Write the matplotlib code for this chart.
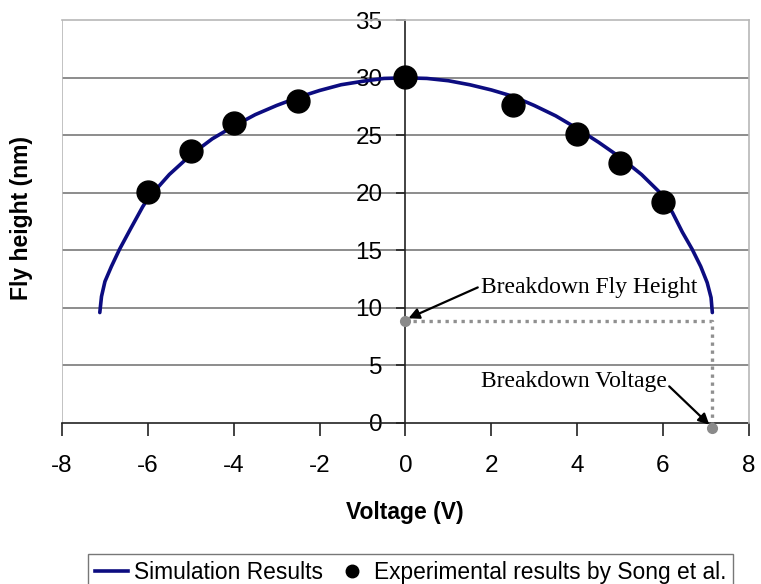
import matplotlib
matplotlib.use("Agg")
import matplotlib.pyplot as plt
from matplotlib.lines import Line2D

# Simulated fly height vs. applied voltage
sim_voltage = [-7.12, -7.08, -7.00, -6.85, -6.66, -6.40, -6.12, -6.00, -5.50, -5.00,
               -4.50, -4.00, -3.50, -3.00, -2.50, -2.00, -1.50, -1.00, -0.50, 0.00,
               0.50, 1.00, 1.50, 2.00, 2.50, 3.00, 3.50, 4.00, 4.50, 5.00,
               5.50, 5.91, 6.22, 6.45, 6.68, 6.88, 7.03, 7.12, 7.15]
sim_height = [9.6, 11.0, 12.3, 13.6, 15.1, 16.9, 18.8, 19.5, 21.6, 23.3,
              24.7, 25.8, 26.8, 27.6, 28.3, 28.9, 29.4, 29.7, 29.95, 30.0,
              29.95, 29.75, 29.4, 28.95, 28.4, 27.6, 26.7, 25.6, 24.4, 23.1,
              21.6, 20.1, 18.3, 16.6, 15.1, 13.6, 12.2, 10.9, 9.6]

# Measured fly height (Song et al.)
exp_voltage = [-6, -5, -4, -2.5, 0, 2.5, 4, 5, 6]
exp_height = [20.1, 23.6, 26.1, 28.0, 30.1, 27.6, 25.1, 22.6, 19.2]

# Breakdown guide lines
bd_voltage = [0, 7.15, 7.15]
bd_height = [8.9, 8.9, -0.4]

x_ticks = [-8, -6, -4, -2, 0, 2, 4, 6, 8]
y_ticks = [0, 5, 10, 15, 20, 25, 30, 35]

fig = plt.figure(figsize=(7.61, 5.84), dpi=100)
ax = fig.add_axes([0.0815, 0.2757, 0.9025, 0.6895])
ax.set_xlim(-8, 8)
ax.set_ylim(0, 35)

# Horizontal grid
for yv in y_ticks[1:-1]:
    ax.axhline(yv, color="#6e6e6e", lw=1.1, zorder=1)

# Light frame on the outer edges
ax.axvline(-8, color="#b8b8b8", lw=1.2, zorder=1)
for side in ("top", "right"):
    ax.spines[side].set_color("#b8b8b8")
    ax.spines[side].set_linewidth(1.2)

# Axes crossing at the origin
ax.spines["left"].set_position(("data", 0))
ax.spines["bottom"].set_position(("data", 0))
for side in ("left", "bottom"):
    ax.spines[side].set_color("#222222")
    ax.spines[side].set_linewidth(1.2)
    ax.spines[side].set_zorder(2)

tick_font = dict(family="Liberation Sans", size=17.5)
ax.set_xticks(x_ticks)
ax.set_yticks(y_ticks)
ax.set_xticklabels([str(v) for v in x_ticks], **tick_font)
ax.set_yticklabels([str(v) for v in y_ticks], **tick_font)
ax.tick_params(axis="x", direction="out", length=9, width=1.2, color="#222222", pad=14)
ax.tick_params(axis="y", direction="out", length=6.5, width=1.2, color="#222222", pad=10)

ax.plot(sim_voltage, sim_height, color="#0c0c80", lw=2.6, zorder=3,
        solid_capstyle="round", solid_joinstyle="round")
ax.plot(exp_voltage, exp_height, "o", color="black", ms=16.5, zorder=4)
ax.plot(bd_voltage, bd_height, color="#909090", lw=2.4, ls=(0, (1, 1.4)),
        zorder=3, clip_on=False)
ax.plot([bd_voltage[0], bd_voltage[-1]], [bd_height[0], bd_height[-1]], "o",
        color="#8a8a8a", ms=7, zorder=4, clip_on=False)

note_font = dict(family="Liberation Serif", size=17, color="black")
ax.annotate("Breakdown Fly Height", xy=(0.07, 9.1), xytext=(1.75, 11.8),
            ha="left", va="center", annotation_clip=False, **note_font,
            arrowprops=dict(arrowstyle="-|>", color="black", lw=1.6,
                            mutation_scale=16, shrinkA=0, shrinkB=0,
                            relpos=(0.0, 0.55)))
ax.annotate("Breakdown Voltage", xy=(7.08, -0.15), xytext=(1.75, 3.6),
            ha="left", va="center", annotation_clip=False, **note_font,
            arrowprops=dict(arrowstyle="-|>", color="black", lw=1.6,
                            mutation_scale=16, shrinkA=0, shrinkB=0,
                            relpos=(1.0, 0.4)))

label_font = dict(family="Liberation Sans", size=16.5, weight="bold")
fig.text(405 / 761, 1 - 513 / 584, "Voltage (V)", ha="center", va="center", **label_font)
fig.text(22 / 761, 1 - 218 / 584, "Fly height (nm)", ha="center", va="center",
         rotation=90, **label_font)

handles = [Line2D([], [], color="#0c0c80", lw=2.6),
           Line2D([], [], color="black", marker="o", ls="none", ms=9)]
leg = fig.legend(handles, ["Simulation Results", "Experimental results by Song et al."],
                 loc="upper left", bbox_to_anchor=(88 / 761, 1 - 554 / 584),
                 ncol=2, frameon=True, fancybox=False, handlelength=1.45,
                 handletextpad=0.25, columnspacing=0.55, borderpad=0.3,
                 borderaxespad=0.0,
                 prop=dict(family="Liberation Sans", size=16.4))
leg.get_frame().set_edgecolor("#555555")
leg.get_frame().set_linewidth(1.0)

fig.savefig("out.png", dpi=100)
